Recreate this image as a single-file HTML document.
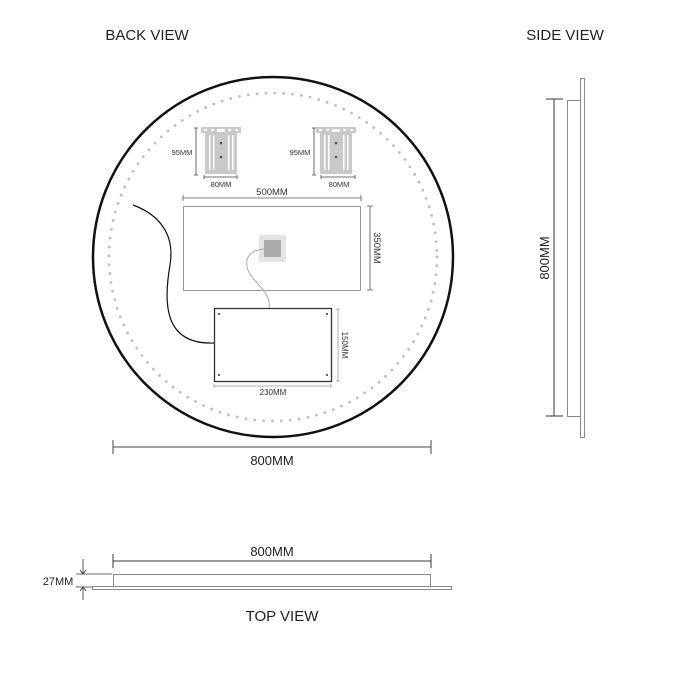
<!DOCTYPE html>
<html><head><meta charset="utf-8"><style>
html,body{margin:0;padding:0;background:#fff;}
svg{display:block;}
text{font-family:"Liberation Sans","DejaVu Sans",sans-serif;}
</style></head><body>
<svg width="700" height="700" viewBox="0 0 700 700" xmlns="http://www.w3.org/2000/svg">
<rect width="700" height="700" fill="#fff"/>
<defs>
<g id="br">
  <rect x="-20" y="0" width="40" height="6" fill="#c9c9c9"/>
  <rect x="-16" y="5" width="32" height="42" fill="#c9c9c9"/>
  <rect x="-17" y="2" width="3" height="2" fill="#fff"/>
  <rect x="-10" y="2" width="3" height="2" fill="#fff"/>
  <rect x="7" y="2" width="3" height="2" fill="#fff"/>
  <rect x="14" y="2" width="3" height="2" fill="#fff"/>
  <rect x="-4" y="2" width="8" height="3" fill="#fff"/>
  <rect x="-12" y="8" width="1.5" height="35" fill="#fff"/>
  <rect x="-8" y="8" width="1.5" height="35" fill="#fff"/>
  <rect x="7" y="8" width="1.5" height="35" fill="#fff"/>
  <rect x="11" y="8" width="1.5" height="35" fill="#fff"/>
  <circle cx="0" cy="16" r="1.3" fill="#555"/>
  <circle cx="0" cy="30" r="1.3" fill="#555"/>
</g>
</defs>
<text x="147" y="40" font-size="15" text-anchor="middle" fill="#222">BACK VIEW</text>
<text x="565" y="40" font-size="15" text-anchor="middle" fill="#222">SIDE VIEW</text>
<text x="282" y="621" font-size="15" text-anchor="middle" fill="#222">TOP VIEW</text>

<!-- circle -->
<circle cx="273" cy="257" r="180" fill="none" stroke="#111" stroke-width="2.5"/>
<circle cx="273" cy="257" r="164" fill="none" stroke="#b9bccb" stroke-width="2.8" stroke-linecap="round" stroke-dasharray="0 8.9"/>

<!-- brackets -->
<use href="#br" x="221" y="127"/>
<use href="#br" x="336" y="127"/>
<g stroke="#444" stroke-width="0.8" fill="none">
  <path d="M196 128V175M194 128h4M194 175h4"/>
  <path d="M314 128V175M312 128h4M312 175h4"/>
  <path d="M204 177h33M204 175v4M237 175v4"/>
  <path d="M321 177h34M321 175v4M355 175v4"/>
</g>
<g font-size="7.5" fill="#333" text-anchor="middle">
  <text x="182" y="155">95MM</text>
  <text x="300" y="155">95MM</text>
  <text x="221" y="187">80MM</text>
  <text x="339" y="187">80MM</text>
</g>

<!-- 500mm rect -->
<g stroke="#555" stroke-width="0.8" fill="none">
  <path d="M183 198h178M183 195v6M361 195v6"/>
  <path d="M370 206V290M367 206h6M367 290h6"/>
  <path d="M338 309V381M336 309h4M336 381h4" stroke="#999"/>
  <path d="M214 386h117M214 384v4M331 384v4" stroke="#999"/>
</g>
<text x="272" y="195" font-size="9.5" text-anchor="middle" fill="#333">500MM</text>
<text transform="translate(374,248) rotate(90)" font-size="9.5" text-anchor="middle" fill="#333">350MM</text>
<text transform="translate(342,345) rotate(90)" font-size="8" text-anchor="middle" fill="#333">150MM</text>
<text x="273" y="395" font-size="8" text-anchor="middle" fill="#333">230MM</text>
<rect x="183.5" y="206.5" width="177" height="84" fill="none" stroke="#999" stroke-width="1"/>
<rect x="259" y="235" width="27" height="27" fill="#e4e4e4"/>
<rect x="264" y="240" width="17" height="17" fill="#aaa"/>
<path d="M264 249 C250 250 244 258 248 270 C252 282 272 292 269 308" fill="none" stroke="#aaa" stroke-width="1"/>
<rect x="214.5" y="308.5" width="117" height="73" fill="none" stroke="#333" stroke-width="1.3"/>
<g fill="#333"><circle cx="219" cy="314" r="1"/><circle cx="327" cy="314" r="1"/><circle cx="219" cy="375" r="1"/><circle cx="327" cy="375" r="1"/></g>
<path d="M133 205 C160 215 175 235 170 265 C164 300 162 345 214 343" fill="none" stroke="#111" stroke-width="1.2"/>

<!-- 800 bottom dim -->
<g stroke="#444" stroke-width="1" fill="none">
  <path d="M113 447h318M113 440v14M431 440v14"/>
</g>
<text x="272" y="465" font-size="13" text-anchor="middle" fill="#222">800MM</text>

<!-- side view -->
<rect x="580.5" y="78.5" width="4" height="359" fill="none" stroke="#888" stroke-width="1"/>
<rect x="567.5" y="100.5" width="13" height="316" fill="none" stroke="#888" stroke-width="1"/>
<g stroke="#333" stroke-width="1" fill="none">
  <path d="M554 99V416M546 99h17M546 416h17"/>
</g>
<text transform="translate(549,258) rotate(-90)" font-size="13" text-anchor="middle" fill="#222">800MM</text>

<!-- top view -->
<g stroke="#333" stroke-width="1" fill="none">
  <path d="M113 561h318M113 554v14M431 554v14"/>
</g>
<text x="272" y="556" font-size="13" text-anchor="middle" fill="#222">800MM</text>
<rect x="113.5" y="574.5" width="317" height="12" fill="none" stroke="#888" stroke-width="1"/>
<rect x="92.5" y="586.5" width="359" height="3" fill="none" stroke="#888" stroke-width="1"/>
<g stroke="#333" stroke-width="0.8" fill="none">
  <path d="M83 559V574M80 570l3 4 3-4M76 574h36M76 587h16M83 600V587M80 591l3-4 3 4"/>
</g>
<text x="58" y="585" font-size="11" text-anchor="middle" fill="#222">27MM</text>
</svg>
</body></html>
